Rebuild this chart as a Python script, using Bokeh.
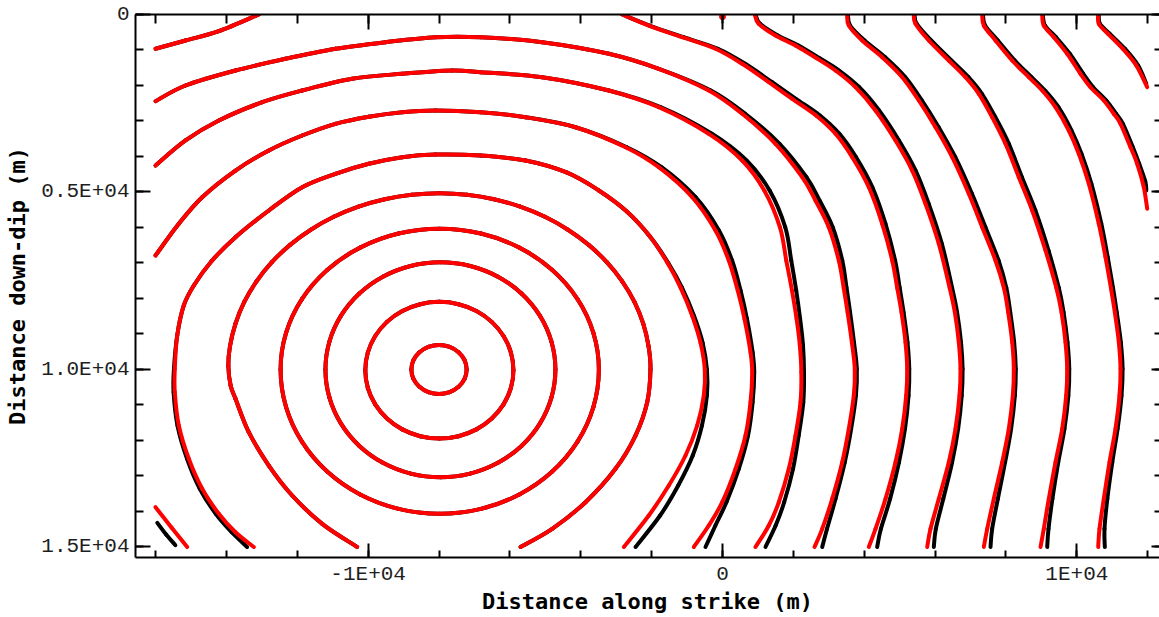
from bokeh.plotting import figure
from bokeh.models import Range1d, LinearAxis, FixedTicker, ColumnDataSource
from bokeh.embed import file_html
from bokeh.resources import INLINE

# ---------------- axis ticks ----------------
x_major_ticks = [-10000, 0, 10000]
x_major_labels = ["-1E+04", "0", "1E+04"]
x_minor_ticks = [-16000, -14000, -12000, -10000, -8000, -6000, -4000, -2000, 0,
                 2000, 4000, 6000, 8000, 10000, 12000]
y_major_ticks = [0, 5000, 10000, 15000]
y_major_labels = ["0", "0.5E+04", "1.0E+04", "1.5E+04"]
y_minor_ticks = [0, 1000, 2000, 3000, 4000, 5000, 6000, 7000, 8000, 9000, 10000,
                 11000, 12000, 13000, 14000, 15000]

# ---------------- rupture-time contours (red solution), metres ----------------
x1 = [-7220, -7279, -7449, -7701, -8000, -8299, -8551, -8721, -8780, -8721, -8551, -8299, -8000, -7701, -7449, -7279, -7220]
y1 = [10000, 9736, 9512, 9363, 9310, 9363, 9512, 9736, 10000, 10264, 10488, 10637, 10690, 10637, 10488, 10264, 10000]

x2 = [-5900, -5971, -6180, -6512, -6945, -7449, -7990, -8531, -9035, -9468, -9800, -10009, -10080, -10009, -9800, -9468, -9035, -8531, -7990, -7449, -6945, -6512, -6180, -5971, -5900]
y2 = [10020, 9522, 9057, 8659, 8353, 8161, 8095, 8161, 8353, 8659, 9057, 9522, 10020, 10518, 10983, 11381, 11687, 11879, 11945, 11879, 11687, 11381, 10983, 10518, 10020]

x3 = [-4715, -4826, -5150, -5665, -6337, -7120, -7960, -8800, -9583, -10255, -10770, -11094, -11205, -11094, -10770, -10255, -9583, -8800, -7960, -7120, -6337, -5665, -5150, -4826, -4715]
y3 = [10000, 9218, 8490, 7865, 7385, 7083, 6980, 7083, 7385, 7865, 8490, 9218, 10000, 10786, 11518, 12146, 12628, 12932, 13035, 12932, 12628, 12146, 11518, 10786, 10000]

x4 = [-3489, -3642, -4091, -4804, -5734, -6818, -7980, -9142, -10226, -11156, -11869, -12318, -12471, -12318, -11869, -11156, -10226, -9142, -7980, -6818, -5734, -4804, -4091, -3642, -3489]
y4 = [10000, 8974, 8018, 7197, 6567, 6170, 6037, 6170, 6567, 7197, 8018, 8974, 10000, 11052, 12032, 12874, 13520, 13926, 14065, 13926, 13520, 12874, 12032, 11052, 10000]

x5 = [-10309, -11296, -12143, -12803, -13368, -13743, -13880, -13945, -13900, -13745, -13495, -13150, -12717, -12203, -11618, -10969, -10272, -9532, -8768, -7990, -7212, -6448, -5708, -5011, -4362, -3777, -3265, -2830, -2485, -2235, -2085, -2032, -2125, -2455, -3020, -3866, -4806, -5700]
y5 = [15000, 14347, 13550, 12705, 11766, 10826, 10450, 9900, 9352, 8715, 8098, 7517, 6977, 6489, 6062, 5699, 5412, 5203, 5077, 5034, 5077, 5203, 5412, 5699, 6062, 6489, 6976, 7517, 8098, 8715, 9352, 10000, 10922, 11860, 12798, 13739, 14488, 15000]

x6 = [-13227, -13743, -14214, -14683, -15061, -15343, -15456, -15456, -15388, -15202, -14920, -14420, -13743, -12803, -11861, -10921, -9981, -9039, -8099, -6829, -5559, -4400, -3500, -2700, -2050, -1550, -1180, -850, -620, -500, -528, -714, -1044, -1515, -2080, -2785]
y6 = [15000, 14584, 14065, 13361, 12516, 11578, 10640, 9981, 9043, 8197, 7634, 6950, 6273, 5521, 4865, 4487, 4206, 4020, 3944, 3972, 4113, 4450, 4950, 5550, 6250, 7000, 7700, 8500, 9250, 10000, 10733, 11578, 12423, 13268, 14113, 15000]

x7 = [-16000, -15343, -14683, -13743, -12803, -11861, -10921, -9980, -9039, -8099, -6829, -5559, -4148, -2737, -1798, -855, -198, 178, 430, 620, 790, 838, 790, 649, 367, -8, -387, -810]
y7 = [6789, 5896, 5147, 4395, 3831, 3409, 3079, 2880, 2752, 2704, 2752, 2893, 3175, 3738, 4302, 5147, 6085, 6930, 7775, 8572, 9513, 10076, 10922, 11860, 12798, 13739, 14395, 15000]
x7_corner = [-16000, -15550, -15106]
y7_corner = [13879, 14450, 15000]

x8 = [-16000, -15154, -14214, -12990, -11861, -10450, -9039, -7628, -6829, -5088, -3209, -1798, -387, 556, 1180, 1620, 1800, 1960, 2090, 2180, 2225, 2201, 2060, 1871, 1589, 1307, 931]
y8 = [4254, 3549, 2986, 2471, 2141, 1811, 1670, 1578, 1625, 1766, 2141, 2611, 3361, 4113, 4958, 5992, 6930, 7775, 8572, 9300, 10076, 10922, 11860, 12798, 13739, 14395, 15000]

x9 = [-16000, -15154, -13743, -12332, -10921, -9510, -8099, -6829, -5088, -3209, -1798, -387, 556, 1496, 2249, 2624, 3000, 3282, 3420, 3530, 3650, 3733, 3705, 3564, 3378, 3096, 2814, 2596]
y9 = [2442, 2000, 1578, 1248, 966, 780, 639, 639, 780, 1107, 1530, 2141, 2797, 3642, 4583, 5240, 5992, 6930, 7700, 8386, 9231, 9981, 10733, 11671, 12612, 13643, 14488, 15000]

x10_corner = [-16000, -15154, -14214, -13086]
y10_corner = [966, 733, 470, 0]
x10 = [-2830, -2080, -1137, -198, 556, 1307, 1967, 2640, 3189, 3660, 4129, 4507, 4789, 4930, 5051, 5164, 5212, 5184, 5071, 4882, 4600, 4318, 4129]
y10 = [0, 310, 639, 966, 1389, 1907, 2375, 2845, 3361, 4020, 4865, 5896, 6930, 7700, 8386, 9231, 9981, 10733, 11671, 12612, 13643, 14488, 15000]

x11 = [911, 1024, 1496, 2060, 2650, 3189, 3753, 4318, 4882, 5353, 5729, 6104, 6410, 6556, 6668, 6716, 6688, 6575, 6386, 6104, 5870, 5777]
y11 = [0, 262, 592, 873, 1230, 1578, 2048, 2704, 3549, 4395, 5333, 6459, 7700, 8386, 9231, 9981, 10733, 11671, 12612, 13643, 14488, 15000]

x12 = [3519, 3564, 3942, 4507, 5071, 5540, 6011, 6482, 6951, 7329, 7704, 7940, 8062, 8175, 8221, 8193, 8079, 7893, 7656, 7470, 7374]
y12 = [0, 310, 732, 1203, 1766, 2423, 3175, 4020, 5051, 5992, 6930, 7700, 8386, 9231, 9981, 10733, 11671, 12612, 13643, 14488, 15000]

x13 = [5398, 5446, 5822, 6386, 6857, 7233, 7611, 7986, 8362, 8740, 9115, 9420, 9567, 9679, 9727, 9699, 9586, 9397, 9208, 9067, 8974]
y13 = [0, 262, 732, 1296, 1766, 2234, 2893, 3642, 4583, 5521, 6648, 7700, 8386, 9231, 9981, 10733, 11671, 12612, 13643, 14488, 15000]

x14 = [7329, 7374, 7704, 8175, 8644, 9022, 9397, 9773, 10055, 10337, 10619, 10808, 10960, 11071, 11184, 11232, 11203, 11090, 10921, 10760, 10639, 10602]
y14 = [0, 310, 732, 1296, 1766, 2141, 2611, 3268, 3924, 4769, 5896, 6837, 7700, 8386, 9231, 9981, 10733, 11671, 12612, 13643, 14488, 15000]

x15 = [9022, 9067, 9349, 9727, 10103, 10385, 10760, 11042, 11232, 11514, 11703, 11889, 11985]
y15 = [0, 310, 639, 1107, 1670, 2048, 2423, 2797, 3079, 3738, 4206, 4865, 5473]

x16 = [10602, 10619, 10880, 11300, 11680, 11985]
y16 = [0, 262, 544, 970, 1440, 2048]

dot_x = [0]
dot_y = [60]

# ---------------- black solution (where it departs from the red one) ----------------
x6_black = [-13415, -13850, -14300, -14750, -15110, -15380, -15490, -15480, -15388, -15202, -14920, -14420, -13743, -12803, -11861, -10921, -9981, -9039, -8099, -6829, -5559, -4400, -3500, -2700, -2050, -1530, -1140, -800, -560, -440, -440, -580, -840, -1250, -1760, -2455]
x7_black = [-16000, -15343, -14683, -13743, -12803, -11861, -10921, -9980, -9039, -8099, -6829, -5559, -4148, -2700, -1720, -760, -100, 270, 510, 690, 850, 895, 850, 720, 460, 110, -200, -480]
x7_corner_black = [-15950, -15700, -15440]
y7_corner_black = [14320, 14650, 14950]
x8_black = [-16000, -15154, -14214, -12990, -11861, -10450, -9039, -7628, -6829, -5088, -3209, -1750, -300, 680, 1330, 1770, 1940, 2080, 2190, 2270, 2300, 2280, 2150, 1990, 1740, 1500, 1213]
x9_black = [-16000, -15154, -13743, -12332, -10921, -9510, -8099, -6829, -5088, -3209, -1798, -330, 640, 1610, 2370, 2740, 3110, 3380, 3500, 3600, 3710, 3790, 3765, 3630, 3450, 3190, 2950, 2814]
x10_black = [-2830, -2060, -1100, -130, 640, 1400, 2070, 2750, 3300, 3770, 4230, 4600, 4870, 5000, 5110, 5220, 5270, 5250, 5150, 4980, 4730, 4470, 4364]
x11_black = [930, 1060, 1560, 2140, 2740, 3290, 3860, 4420, 4980, 5450, 5820, 6190, 6480, 6620, 6730, 6775, 6750, 6650, 6480, 6230, 6020, 5963]
x12_black = [3540, 3600, 4010, 4590, 5160, 5630, 6100, 6570, 7040, 7420, 7790, 8010, 8120, 8230, 8275, 8250, 8145, 7975, 7770, 7610, 7563]
x13_black = [5420, 5480, 5890, 6460, 6940, 7320, 7700, 8080, 8450, 8830, 9200, 9490, 9625, 9735, 9785, 9760, 9650, 9475, 9310, 9200, 9163]
x14_black = [7350, 7410, 7770, 8250, 8720, 9100, 9480, 9850, 10130, 10410, 10690, 10870, 11020, 11125, 11240, 11290, 11260, 11150, 11000, 10860, 10780, 10789]
x15_black = [9040, 9100, 9410, 9800, 10180, 10460, 10830, 11110, 11300, 11580, 11760, 11930, 11960]
y15_black = [0, 310, 639, 1107, 1670, 2048, 2423, 2797, 3079, 3738, 4206, 4700, 4958]
x16_black = [10620, 10650, 10930, 11360, 11730, 11960]
y16_black = [0, 262, 544, 970, 1440, 1950]

red_lines = [(x1, y1, True), (x2, y2, True), (x3, y3, True), (x4, y4, True),
             (x5, y5, False), (x6, y6, False), (x7, y7, False), (x7_corner, y7_corner, False),
             (x8, y8, False), (x9, y9, False), (x10_corner, y10_corner, False),
             (x10, y10, False), (x11, y11, False), (x12, y12, False), (x13, y13, False),
             (x14, y14, False), (x15, y15, False), (x16, y16, False)]
black_lines = [(x1, y1, True), (x2, y2, True), (x3, y3, True), (x4, y4, True),
               (x5, y5, False), (x6_black, y6, False), (x7_black, y7, False),
               (x7_corner_black, y7_corner_black, False), (x8_black, y8, False),
               (x9_black, y9, False), (x10_corner, y10_corner, False), (x10_black, y10, False),
               (x11_black, y11, False), (x12_black, y12, False), (x13_black, y13, False),
               (x14_black, y14, False), (x15_black, y15_black, False), (x16_black, y16_black, False)]


def smooth_path(lines):
    """Draw each read polyline as a smooth curve through its points (Catmull-Rom as Bezier)."""
    out = dict(x0=[], y0=[], x1=[], y1=[], cx0=[], cy0=[], cx1=[], cy1=[])
    for xs, ys, closed in lines:
        if closed:
            px, py = xs[:-1], ys[:-1]
            m = len(px)
            quads = [((i - 1) % m, i, (i + 1) % m, (i + 2) % m) for i in range(m)]
        else:
            px, py = xs, ys
            m = len(px)
            quads = [(max(i - 1, 0), i, i + 1, min(i + 2, m - 1)) for i in range(m - 1)]
        for a, b, c, d in quads:
            out["x0"].append(px[b]); out["y0"].append(py[b])
            out["x1"].append(px[c]); out["y1"].append(py[c])
            out["cx0"].append(px[b] + (px[c] - px[a]) / 6.0)
            out["cy0"].append(py[b] + (py[c] - py[a]) / 6.0)
            out["cx1"].append(px[c] - (px[d] - px[b]) / 6.0)
            out["cy1"].append(py[c] - (py[d] - py[b]) / 6.0)
    return ColumnDataSource(out)


# ---------------- figure ----------------
p = figure(width=1159, height=617,
           x_range=Range1d(-16565, 12332), y_range=Range1d(15296, 0),
           output_backend="svg", toolbar_location=None,
           min_border_left=135, min_border_right=0, min_border_top=14, min_border_bottom=60)
p.grid.visible = False
p.outline_line_color = None
p.background_fill_color = "white"
p.border_fill_color = "white"

p.bezier(x0="x0", y0="y0", x1="x1", y1="y1", cx0="cx0", cy0="cy0", cx1="cx1", cy1="cy1",
         source=smooth_path(black_lines), line_color="black", line_width=4, line_cap="round")
p.bezier(x0="x0", y0="y0", x1="x1", y1="y1", cx0="cx0", cy0="cy0", cx1="cx1", cy1="cy1",
         source=smooth_path(red_lines), line_color="red", line_width=4, line_cap="round")
p.scatter(dot_x, dot_y, size=6, color="red", marker="circle")

bottom = p.below[0]
left = p.left[0]

LABEL_FONT = "Liberation Mono"
TITLE_FONT = "DejaVu Sans Mono"


def style(ax, ticker, tick_in, minor_in, line=True):
    ax.ticker = ticker
    ax.axis_line_color = "black" if line else None
    ax.axis_line_width = 2
    ax.major_tick_line_color = "black"
    ax.minor_tick_line_color = "black"
    ax.major_tick_line_width = 2
    ax.minor_tick_line_width = 2
    ax.major_tick_in = tick_in
    ax.major_tick_out = 0
    ax.minor_tick_in = minor_in
    ax.minor_tick_out = 0
    ax.major_label_text_font = LABEL_FONT
    ax.major_label_text_font_size = "21px"
    ax.major_label_text_color = "#1e1e1e"
    ax.axis_label_text_font = TITLE_FONT
    ax.axis_label_text_font_style = "bold"
    ax.axis_label_text_font_size = "22px"
    ax.axis_label_text_color = "black"


style(bottom, FixedTicker(ticks=x_major_ticks, minor_ticks=x_minor_ticks), 14, 7)
style(left, FixedTicker(ticks=y_major_ticks, minor_ticks=y_minor_ticks), 15, 8)
bottom.major_label_overrides = dict(zip(x_major_ticks, x_major_labels))
left.major_label_overrides = dict(zip(y_major_ticks, y_major_labels))
bottom.axis_label = "Distance along strike (m)"
left.axis_label = "Distance down-dip (m)"
bottom.major_label_standoff = 5
left.major_label_standoff = 6
bottom.axis_label_standoff = 0
left.axis_label_standoff = 8

# top and right frame ticks (no labels): short ticks and the longer ones at major positions
top_short = LinearAxis(ticker=FixedTicker(ticks=[], minor_ticks=x_minor_ticks))
top_long = LinearAxis(ticker=FixedTicker(ticks=[], minor_ticks=x_major_ticks))
right_short = LinearAxis(ticker=FixedTicker(ticks=[], minor_ticks=y_minor_ticks))
right_long = LinearAxis(ticker=FixedTicker(ticks=[], minor_ticks=y_major_ticks))
for ax, length, line in ((top_short, 9, True), (top_long, 15, False),
                         (right_short, 5, False), (right_long, 8, False)):
    ax.axis_line_color = "black" if line else None
    ax.axis_line_width = 2
    ax.minor_tick_line_color = "black"
    ax.minor_tick_line_width = 2
    ax.minor_tick_in = length
    ax.minor_tick_out = 0
    ax.major_tick_in = 0
    ax.major_tick_out = 0
    ax.major_label_standoff = 0
    ax.axis_label_standoff = 0
p.add_layout(top_short, "above")
p.add_layout(top_long, "above")
p.add_layout(right_short, "right")
p.add_layout(right_long, "right")

open("out.html", "w").write(file_html(p, INLINE))
